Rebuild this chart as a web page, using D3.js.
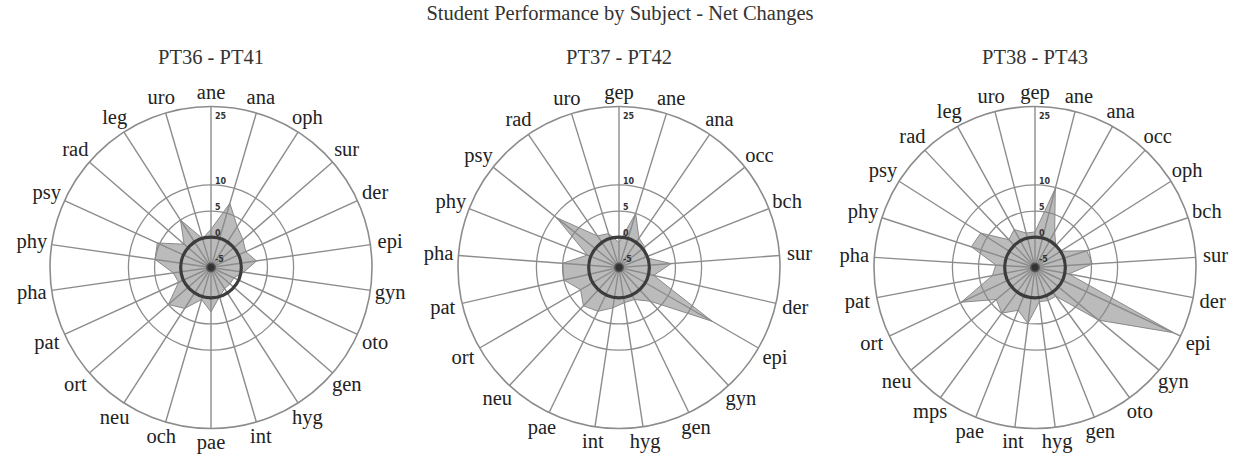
<!DOCTYPE html>
<html>
<head>
<meta charset="utf-8">
<script src="https://cdn.jsdelivr.net/npm/d3@7"></script>
<style>
  body { margin: 0; background: #fff; }
  svg { display: block; }
</style>
</head>
<body>
<div id="chart"></div>
<script>
// Данные: подписи и значения (чистые изменения) для каждой диаграммы
const mainTitle = 'Student Performance by Subject - Net Changes';
const panelTitles = ['PT36 - PT41', 'PT37 - PT42', 'PT38 - PT43'];

const subjectsA = ['ane', 'ana', 'oph', 'sur', 'der', 'epi', 'gyn', 'oto', 'gen', 'hyg', 'int',
  'pae', 'och', 'neu', 'ort', 'pat', 'pha', 'phy', 'psy', 'rad', 'leg', 'uro'];
const valuesA = [1.5, 7, 3.5, 2.3, 1.5, 3, 0.5, -1, -1, -1, 0,
  2.7, 0.6, 3.5, 5, 1, 1.5, 5, 5.5, 1, 5, 0];

const subjectsB = ['gep', 'ane', 'ana', 'occ', 'bch', 'sur', 'der', 'epi', 'gyn', 'gen', 'hyg',
  'int', 'pae', 'neu', 'ort', 'pat', 'pha', 'phy', 'psy', 'rad', 'uro'];
const valuesB = [-1, 5, 1, 0.5, -0.5, 4.2, 1, 14.8, 3, 1, 1,
  2, 3.5, 4.2, 2.7, 5, 5, 0.7, 9.5, 1.5, 1];

const subjectsC = ['gep', 'ane', 'ana', 'occ', 'oph', 'bch', 'sur', 'der', 'epi', 'gyn', 'oto',
  'gen', 'hyg', 'int', 'pae', 'mps', 'neu', 'ort', 'pat', 'pha', 'phy', 'psy', 'rad', 'leg', 'uro'];
const valuesC = [1, 9.8, 2, 0, 0, 4.6, 5.2, 0.8, 23.5, 10, 1,
  1, 0.8, 5, 3, 5, 3.8, 9.8, 2.5, 1.7, 7, 6.5, 1.5, 2.5, 1];

const ringValues = [5, 10, 25];
const tickValues = [25, 10, 5, 0, -5];

const panels = [
  { title: panelTitles[0], subjects: subjectsA, values: valuesA, cx: 211, cy: 267.5 },
  { title: panelTitles[1], subjects: subjectsB, values: valuesB, cx: 619, cy: 267.5 },
  { title: panelTitles[2], subjects: subjectsC, values: valuesC, cx: 1035, cy: 267.5 }
];

const width = 1237;
const height = 455;
const outerR = 161;
const serif = '"Liberation Serif", "DejaVu Serif", serif';
const fontSize = 20.5;

const svg = d3.select('#chart')
  .append('svg')
  .attr('width', width)
  .attr('height', height);

svg.append('rect')
  .attr('width', width)
  .attr('height', height)
  .attr('fill', '#fff');

svg.append('text')
  .attr('x', 620)
  .attr('y', 20)
  .attr('text-anchor', 'middle')
  .attr('font-family', serif)
  .attr('font-size', fontSize)
  .attr('fill', '#333')
  .text(mainTitle);

// Радиальная шкала
const r = d3.scaleLinear().domain([-5.8, 25]).range([0, outerR]);

panels.forEach(p => {
  const n = p.subjects.length;
  const angle = d3.scaleLinear().domain([0, n]).range([0, 2 * Math.PI]);

  const g = svg.append('g')
    .attr('transform', `translate(${p.cx},${p.cy})`);

  svg.append('text')
    .attr('x', p.cx)
    .attr('y', 64)
    .attr('text-anchor', 'middle')
    .attr('font-family', serif)
    .attr('font-size', fontSize)
    .attr('fill', '#333')
    .text(p.title);

  // кольца
  g.selectAll('.ring')
    .data(ringValues)
    .enter()
    .append('circle')
    .attr('r', d => r(d))
    .attr('fill', 'none')
    .attr('stroke', '#8c8c8c')
    .attr('stroke-width', d => d === 25 ? 1.6 : 1.3);

  // лучи
  g.selectAll('.spoke')
    .data(p.subjects)
    .enter()
    .append('line')
    .attr('x1', 0)
    .attr('y1', 0)
    .attr('x2', (d, i) => outerR * Math.sin(angle(i)))
    .attr('y2', (d, i) => -outerR * Math.cos(angle(i)))
    .attr('stroke', '#8c8c8c')
    .attr('stroke-width', 1.4);

  // полигон значений
  const radar = d3.lineRadial()
    .angle((d, i) => angle(i))
    .radius(d => r(d))
    .curve(d3.curveLinearClosed);

  g.append('path')
    .datum(p.values)
    .attr('d', radar)
    .attr('fill', '#8a8a8a')
    .attr('fill-opacity', 0.58)
    .attr('stroke', '#8a8a8a')
    .attr('stroke-width', 1);

  // нулевое кольцо и центр
  g.append('circle')
    .attr('r', r(0))
    .attr('fill', 'none')
    .attr('stroke', '#3c3c3c')
    .attr('stroke-width', 3.2);

  g.append('circle')
    .attr('r', r(-5))
    .attr('fill', '#333')
    .attr('stroke', '#555')
    .attr('stroke-width', 1.5);

  // подписи шкалы
  g.selectAll('.tick')
    .data(tickValues)
    .enter()
    .append('text')
    .attr('x', 4)
    .attr('y', d => d === 25 ? -r(d) + 12 : -r(d) - 1)
    .attr('font-family', '"DejaVu Sans", sans-serif')
    .attr('font-weight', 'bold')
    .attr('font-size', 8)
    .attr('fill', '#333')
    .text(d => d);

  // подписи предметов
  const labelR = i => 175 + 6 * Math.abs(Math.sin(angle(i)));
  g.selectAll('.label')
    .data(p.subjects)
    .enter()
    .append('text')
    .attr('x', (d, i) => labelR(i) * Math.sin(angle(i)))
    .attr('y', (d, i) => -labelR(i) * Math.cos(angle(i)))
    .attr('dy', '0.3em')
    .attr('text-anchor', 'middle')
    .attr('font-family', serif)
    .attr('font-size', fontSize)
    .attr('fill', '#222')
    .text(d => d);
});
</script>
</body>
</html>
